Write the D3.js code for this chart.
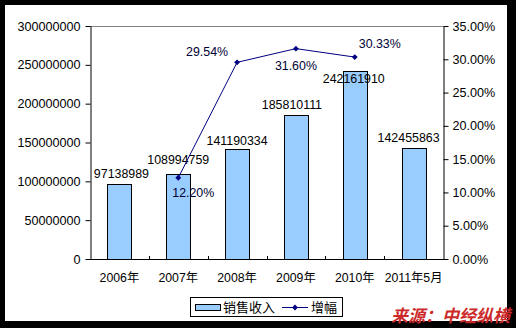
<!DOCTYPE html>
<html>
<head>
<meta charset="utf-8">
<script src="https://cdn.jsdelivr.net/npm/d3@7"></script>
<style>
  body { margin: 0; background: #000; }
  text { font-family: "Liberation Sans", Arial, "Noto Sans CJK SC", sans-serif; }
  .cjk { font-family: "Liberation Sans", "Noto Sans CJK SC", sans-serif; }
</style>
</head>
<body>
<div id="chart"></div>
<script>
// data
const years = ["2006年", "2007年", "2008年", "2009年", "2010年", "2011年5月"]
const sales = [97138989, 108994759, 141190334, 185810111, 242161910, 142455863]
const growth = [null, 0.1220, 0.2954, 0.3160, 0.3033, null]
const leftTicks = [0, 50000000, 100000000, 150000000, 200000000, 250000000, 300000000]
const rightTicks = [0, 0.05, 0.10, 0.15, 0.20, 0.25, 0.30, 0.35]

// label nudges (manual placement like in the original)
const barLabelShift = [[2, -10], [0, -14], [0, -8], [-4, -10], [-1, 8], [-5, -10]]
const lineLabelShift = [null, [15, 15], [-30, -10], [0, 17], [25, -13], null]

const width = 516, height = 328
const plot = {left: 90, right: 443, top: 26, bottom: 259}

const svg = d3.select("#chart").append("svg")
  .attr("width", width).attr("height", height)

svg.append("rect").attr("x", 5).attr("y", 5).attr("width", 502).attr("height", 316).attr("fill", "#fff")

const x = d3.scaleBand().domain(years).range([plot.left, plot.right])
const yL = d3.scaleLinear().domain([0, 300000000]).range([plot.bottom, plot.top])
const yR = d3.scaleLinear().domain([0, 0.35]).range([plot.bottom, plot.top])
const barW = x.bandwidth() * 0.41

// top border of plot area
svg.append("line")
  .attr("x1", plot.left).attr("x2", plot.right)
  .attr("y1", plot.top + 0.5).attr("y2", plot.top + 0.5)
  .attr("stroke", "#808080")

// bars
svg.selectAll(".bar").data(sales).enter().append("rect")
  .attr("class", "bar")
  .attr("x", (d, i) => Math.round(x(years[i]) + x.bandwidth() / 2 - barW / 2) + 0.5)
  .attr("y", d => Math.round(yL(d)) + 0.5)
  .attr("width", Math.round(barW))
  .attr("height", d => plot.bottom - Math.round(yL(d)))
  .attr("fill", "#99ccff")
  .attr("stroke", "#000")
  .attr("stroke-width", 1)

// axes
const fmtL = d3.format("d")
const left = svg.append("g").attr("transform", `translate(${plot.left + 0.5},0)`)
  .call(d3.axisLeft(yL).tickValues(leftTicks).tickFormat(fmtL).tickSize(5).tickPadding(5).tickSizeOuter(0))
const right = svg.append("g").attr("transform", `translate(${plot.right + 0.5},0)`)
  .call(d3.axisRight(yR).tickValues(rightTicks).tickFormat(d3.format(".2%")).tickSize(5).tickPadding(4).tickSizeOuter(0))
;[left, right].forEach(g => {
  g.selectAll("text").attr("font-size", 12.6).attr("fill", "#000")
    .attr("font-family", "'Liberation Sans', Arial, sans-serif")
  g.select(".domain").attr("stroke", "#000")
})

// x axis line + inner ticks
svg.append("line")
  .attr("x1", plot.left).attr("x2", plot.right + 1)
  .attr("y1", plot.bottom + 0.5).attr("y2", plot.bottom + 0.5)
  .attr("stroke", "#000")
svg.selectAll(".xtick").data(years.slice(1)).enter().append("line")
  .attr("x1", d => Math.round(x(d)) + 0.5).attr("x2", d => Math.round(x(d)) + 0.5)
  .attr("y1", plot.bottom - 3).attr("y2", plot.bottom)
  .attr("stroke", "#000")
svg.selectAll(".xlabel").data(years).enter().append("text")
  .attr("class", "cjk")
  .attr("x", d => x(d) + x.bandwidth() / 2)
  .attr("y", 278)
  .attr("text-anchor", "middle")
  .attr("dominant-baseline", "central")
  .attr("font-size", 12.3)
  .text(d => d)

// bar value labels
svg.selectAll(".blabel").data(sales).enter().append("text")
  .attr("x", (d, i) => x(years[i]) + x.bandwidth() / 2 + barLabelShift[i][0])
  .attr("y", (d, i) => yL(d) + barLabelShift[i][1])
  .attr("text-anchor", "middle")
  .attr("dominant-baseline", "central")
  .attr("font-size", 12.4)
  .text(d => d)

// growth line
const pts = growth.map((g, i) => ({g, i})).filter(p => p.g !== null)
const line = d3.line()
  .x(p => x(years[p.i]) + x.bandwidth() / 2)
  .y(p => yR(p.g))
svg.append("path").datum(pts)
  .attr("d", line)
  .attr("fill", "none")
  .attr("stroke", "#000080")
  .attr("stroke-width", 1)
svg.selectAll(".pt").data(pts).enter().append("path")
  .attr("d", d3.symbol(d3.symbolDiamond2, 22))
  .attr("transform", p => `translate(${x(years[p.i]) + x.bandwidth() / 2},${yR(p.g)})`)
  .attr("fill", "#000080")
svg.selectAll(".glabel").data(pts).enter().append("text")
  .attr("x", p => x(years[p.i]) + x.bandwidth() / 2 + lineLabelShift[p.i][0])
  .attr("y", p => yR(p.g) + lineLabelShift[p.i][1])
  .attr("text-anchor", "middle")
  .attr("dominant-baseline", "central")
  .attr("font-size", 12.4)
  .attr("fill", "#000033")
  .text(p => d3.format(".2%")(p.g))

// legend
const lg = svg.append("g")
lg.append("rect").attr("x", 190.5).attr("y", 297.5).attr("width", 152).attr("height", 19)
  .attr("fill", "#fff").attr("stroke", "#000")
lg.append("rect").attr("x", 195.5).attr("y", 304.5).attr("width", 25).attr("height", 6)
  .attr("fill", "#99ccff").attr("stroke", "#000")
lg.append("text").attr("class", "cjk").attr("x", 223).attr("y", 307.5)
  .attr("dominant-baseline", "central").attr("font-size", 13).text("销售收入")
lg.append("line").attr("x1", 282).attr("x2", 308).attr("y1", 307.5).attr("y2", 307.5)
  .attr("stroke", "#000080")
lg.append("path").attr("d", d3.symbol(d3.symbolDiamond2, 22))
  .attr("transform", "translate(295,307.5)").attr("fill", "#000080")
lg.append("text").attr("class", "cjk").attr("x", 311).attr("y", 307.5)
  .attr("dominant-baseline", "central").attr("font-size", 13).text("增幅")

// source note
svg.append("text")
  .attr("x", 391).attr("y", 316)
  .attr("dominant-baseline", "central")
  .attr("font-family", "'Noto Sans CJK SC', sans-serif")
  .attr("font-size", 17)
  .attr("font-weight", "bold")
  .attr("font-style", "italic")
  .attr("fill", "#cc2a2a")
  .text("来源：中经纵横")
</script>
</body>
</html>
